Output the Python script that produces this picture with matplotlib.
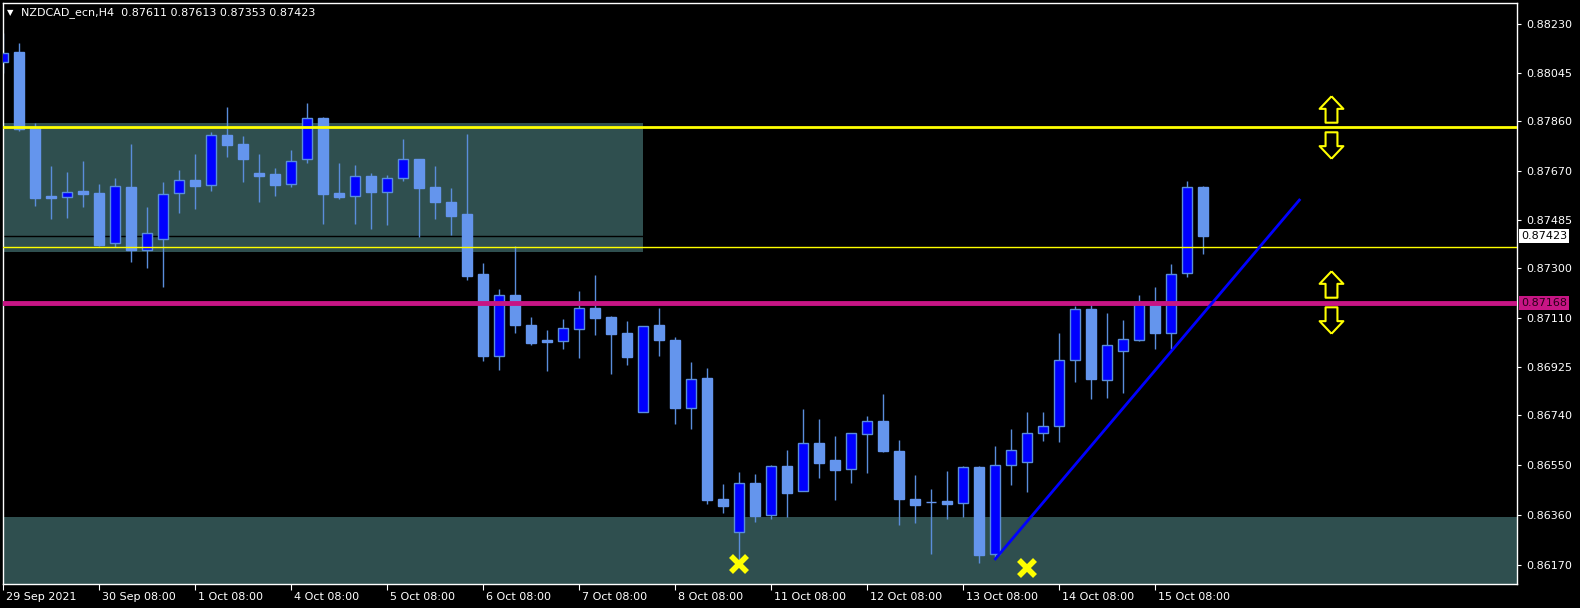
import matplotlib
matplotlib.use("Agg")
import matplotlib.pyplot as plt
import matplotlib.transforms as mtransforms
from matplotlib.path import Path
from matplotlib.patches import Rectangle
import numpy as np

# NZDCAD_ecn H4 candles, 29 Sep 2021 .. 15 Oct 2021
opens = [0.88085, 0.88123, 0.87834, 0.87575, 0.87572, 0.87594, 0.87587, 0.87397, 0.87610, 0.87370,
         0.87412, 0.87587, 0.87636, 0.87617, 0.87808, 0.87773, 0.87663, 0.87659, 0.87621, 0.87716,
         0.87872, 0.87587, 0.87575, 0.87652, 0.87591, 0.87644, 0.87716, 0.87610, 0.87553, 0.87507,
         0.87279, 0.86966, 0.87199, 0.87084, 0.87027, 0.87024, 0.87069, 0.87149, 0.87115, 0.87054,
         0.86753, 0.87084, 0.87027, 0.86769, 0.86883, 0.86422, 0.86297, 0.86483, 0.86361, 0.86548,
         0.86453, 0.86635, 0.86571, 0.86536, 0.86670, 0.86719, 0.86605, 0.86422, 0.86411, 0.86415,
         0.86407, 0.86544, 0.86213, 0.86552, 0.86561, 0.86673, 0.86700, 0.86951, 0.87145, 0.86875,
         0.86985, 0.87027, 0.87164, 0.87054, 0.87282, 0.87611]
highs = [0.88196, 0.88158, 0.87853, 0.87690, 0.87667, 0.87709, 0.87621, 0.87644, 0.87773, 0.87534,
         0.87629, 0.87674, 0.87735, 0.87819, 0.87914, 0.87804, 0.87735, 0.87682, 0.87750, 0.87929,
         0.87875, 0.87701, 0.87693, 0.87663, 0.87655, 0.87792, 0.87718, 0.87690, 0.87606, 0.87811,
         0.87320, 0.87221, 0.87385, 0.87115, 0.87065, 0.87107, 0.87214, 0.87275, 0.87119, 0.87100,
         0.87081, 0.87149, 0.87039, 0.86944, 0.86921, 0.86479, 0.86525, 0.86517, 0.86552, 0.86609,
         0.86765, 0.86727, 0.86662, 0.86673, 0.86738, 0.86822, 0.86647, 0.86514, 0.86460, 0.86529,
         0.86548, 0.86548, 0.86624, 0.86689, 0.86753, 0.86753, 0.87054, 0.87157, 0.87164, 0.87130,
         0.87103, 0.87199, 0.87229, 0.87317, 0.87632, 0.87613]
lows = [0.88044, 0.87823, 0.87537, 0.87488, 0.87492, 0.87534, 0.87385, 0.87381, 0.87324, 0.87301,
        0.87229, 0.87511, 0.87526, 0.87594, 0.87724, 0.87629, 0.87553, 0.87575, 0.87610, 0.87701,
        0.87469, 0.87564, 0.87469, 0.87450, 0.87465, 0.87632, 0.87419, 0.87488, 0.87427, 0.87256,
        0.86947, 0.86913, 0.87054, 0.87008, 0.86909, 0.86993, 0.86959, 0.87046, 0.86898, 0.86932,
        0.86753, 0.86966, 0.86708, 0.86689, 0.86403, 0.86369, 0.86190, 0.86335, 0.86346, 0.86354,
        0.86453, 0.86502, 0.86418, 0.86483, 0.86521, 0.86601, 0.86323, 0.86331, 0.86213, 0.86346,
        0.86354, 0.86179, 0.86194, 0.86475, 0.86449, 0.86643, 0.86639, 0.86867, 0.86803, 0.86807,
        0.86826, 0.87024, 0.86993, 0.86993, 0.87267, 0.87353]
closes = [0.88120, 0.87830, 0.87568, 0.87568, 0.87591, 0.87583, 0.87389, 0.87613, 0.87370, 0.87435,
          0.87583, 0.87636, 0.87613, 0.87808, 0.87770, 0.87716, 0.87652, 0.87617, 0.87709, 0.87872,
          0.87583, 0.87572, 0.87652, 0.87591, 0.87644, 0.87716, 0.87606, 0.87553, 0.87499, 0.87271,
          0.86966, 0.87199, 0.87084, 0.87016, 0.87020, 0.87073, 0.87149, 0.87111, 0.87050, 0.86963,
          0.87081, 0.87027, 0.86769, 0.86879, 0.86418, 0.86396, 0.86483, 0.86357, 0.86548, 0.86445,
          0.86635, 0.86559, 0.86533, 0.86673, 0.86719, 0.86605, 0.86422, 0.86399, 0.86410, 0.86403,
          0.86544, 0.86209, 0.86552, 0.86609, 0.86673, 0.86700, 0.86951, 0.87145, 0.86879, 0.87008,
          0.87031, 0.87164, 0.87054, 0.87279, 0.87610, 0.87423]

date_ticks = [0, 6, 12, 18, 24, 30, 36, 42, 48, 54, 60, 66, 72]
date_labels = ["29 Sep 2021", "30 Sep 08:00", "1 Oct 08:00", "4 Oct 08:00", "5 Oct 08:00",
               "6 Oct 08:00", "7 Oct 08:00", "8 Oct 08:00", "11 Oct 08:00", "12 Oct 08:00",
               "13 Oct 08:00", "14 Oct 08:00", "15 Oct 08:00"]
price_ticks = [0.88230, 0.88045, 0.87860, 0.87670, 0.87485, 0.87300, 0.87110,
               0.86925, 0.86740, 0.86550, 0.86360, 0.86170]

# drawn objects on the chart
resistance = 0.87839
level_thin = 0.87381
pivot = 0.87168
bid = 0.87423
zone_top = (0.87362, 0.87853)   # rectangle over first 40 bars
zone_bottom = 0.86354
trend_x = [62, 81]
trend_y = [0.86194, 0.87560]
cross_x = [46, 64]
cross_y = [0.86173, 0.86160]
arrow_x = 83
arrows_up = [0.87908, 0.87240]
arrows_down = [0.87771, 0.87103]

BULL = "#0000FF"
BEAR = "#6495ED"
WICK = "#5A8DDB"
ZONE = "#2F4F4F"

W, H = 1580, 608
fig = plt.figure(figsize=(W / 100, H / 100), dpi=100, facecolor="black")
ax = fig.add_axes([3 / W, (H - 583.6) / H, 1514 / W, 580.6 / H])
ax.set_facecolor("black")

x = np.arange(len(opens))
o = np.array(opens)
c = np.array(closes)
bull = c >= o

# zones
ax.add_patch(Rectangle((-5, zone_top[0]), 45, zone_top[1] - zone_top[0],
                       facecolor=ZONE, edgecolor="none", zorder=1))
ax.axhspan(0.85, zone_bottom, color=ZONE, lw=0, zorder=1)
ax.axhline(bid, color="black", lw=1, zorder=1.5)

# candles
ax.vlines(x, lows, highs, color=WICK, lw=1, zorder=2)
bottoms = np.minimum(o, c)
heights = np.maximum(np.abs(c - o), 0.00002)
ax.bar(x[bull], heights[bull], bottom=bottoms[bull], width=0.63,
       color=BULL, edgecolor=WICK, lw=1, zorder=3)
ax.bar(x[~bull], heights[~bull], bottom=bottoms[~bull], width=0.63,
       color=BEAR, edgecolor=BEAR, lw=1, zorder=3)

# lines
ax.axhline(resistance, color="#FFFF00", lw=2, zorder=4)
ax.axhline(level_thin, color="#FFFF00", lw=1, zorder=4)
ax.axhline(pivot, color="#C71585", lw=3.5, zorder=4)
ax.plot(trend_x, trend_y, color="#0000FF", lw=2, zorder=5)

# yellow crosses
ax.plot(cross_x, cross_y, ls="none", marker="x", ms=11, mew=4,
        color="#FFFF00", zorder=6)

# up / down arrows
up = Path([(0, 1), (0.9, 0.05), (0.45, 0.05), (0.45, -1), (-0.45, -1),
           (-0.45, 0.05), (-0.9, 0.05), (0, 1)])
down = Path([(px, -py) for px, py in up.vertices])
ax.plot([arrow_x] * 2, arrows_up, ls="none", marker=up, ms=19,
        mfc="black", mec="#FFFF00", mew=1.5, zorder=6)
ax.plot([arrow_x] * 2, arrows_down, ls="none", marker=down, ms=19,
        mfc="black", mec="#FFFF00", mew=1.5, zorder=6)

ax.set_xlim(-0.02, 94.6)
ax.set_ylim(0.86100, 0.88310)

for s in ax.spines.values():
    s.set_color("white")
    s.set_linewidth(1)

ax.yaxis.tick_right()
ax.set_yticks(price_ticks)
ax.set_yticklabels(["%.5f" % v for v in price_ticks])
ax.tick_params(axis="y", colors="white", length=3, pad=4, labelsize=8)
ax.set_xticks(date_ticks)
ax.set_xticklabels(date_labels, ha="left")
ax.tick_params(axis="x", colors="white", length=4, pad=2, labelsize=8)
shift = mtransforms.ScaledTranslation(2 / 72, 0, fig.dpi_scale_trans)
for lab in ax.get_xticklabels():
    lab.set_transform(lab.get_transform() + shift)

# price boxes on the right scale
yt = mtransforms.blended_transform_factory(ax.transAxes, ax.transData)
ax.text(1 + 4 / 1514, bid, "%.5f" % bid, transform=yt, fontsize=8, color="black",
        va="center", ha="left", bbox=dict(facecolor="white", edgecolor="none", pad=1.2),
        clip_on=False, zorder=10)
ax.text(1 + 4 / 1514, pivot, "%.5f" % pivot, transform=yt, fontsize=8, color="#2a0018",
        va="center", ha="left", bbox=dict(facecolor="#C71585", edgecolor="none", pad=1.2),
        clip_on=False, zorder=10)

# header
fig.text(7 / W, 1 - 13 / H, "\u25bc", color="white", fontsize=6, va="center", ha="left")
fig.text(21 / W, 1 - 13 / H, "NZDCAD_ecn,H4  %.5f %.5f %.5f %.5f"
         % (opens[-1], highs[-1], lows[-1], closes[-1]),
         color="white", fontsize=8, va="center", ha="left")

fig.savefig("out.png", dpi=100, facecolor="black")
